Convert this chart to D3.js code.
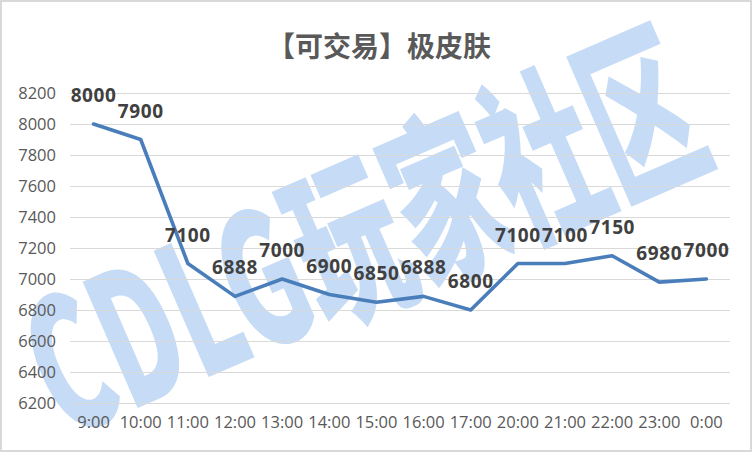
<!DOCTYPE html>
<html><head><meta charset="utf-8">
<script src="https://cdn.jsdelivr.net/npm/d3@7/dist/d3.min.js"></script>
<style>html,body{margin:0;padding:0;background:#fff;}svg{display:block;}</style>
</head><body>
<svg id="c" width="752" height="452"></svg>
<script>
const title = "【可交易】极皮肤";
const categories = ["9:00","10:00","11:00","12:00","13:00","14:00","15:00","16:00","17:00","20:00","21:00","22:00","23:00","0:00"];
const values = [8000,7900,7100,6888,7000,6900,6850,6888,6800,7100,7100,7150,6980,7000];
const yTicks = [6200,6400,6600,6800,7000,7200,7400,7600,7800,8000,8200];
const watermark = "CDLG玩家社区";

const svg = d3.select("#c");
const W = 752, H = 452;
const m = {left:70, right:22, top:93, bottom:49};

svg.append("rect").attr("x",1).attr("y",1).attr("width",W-2).attr("height",H-2)
  .attr("fill","#fff").attr("stroke","#d9d9d9").attr("stroke-width",2);

// watermark
svg.append("g").attr("transform","translate(64,440) rotate(-23.5) scale(1,1.85)")
  .append("text").text(watermark)
  .attr("x",0).attr("y",0)
  .attr("font-family","'Noto Sans CJK SC', sans-serif").attr("font-weight",900)
  .attr("font-size",100).attr("fill","#c6dbf5")
  .attr("textLength",712).attr("lengthAdjust","spacingAndGlyphs");

const x = d3.scaleBand().domain(categories).range([m.left, W-m.right]);
const y = d3.scaleLinear().domain([6200,8200]).range([H-m.bottom, m.top]);

// gridlines
const grid = d3.axisLeft(y).tickValues(yTicks).tickSize(-(W-m.right-m.left)).tickFormat("");
const gg = svg.append("g").attr("transform",`translate(${m.left},0)`).call(grid);
gg.select(".domain").remove();
gg.selectAll("line").attr("stroke","#d9d9d9").attr("stroke-width",1.2);

// y axis labels
const ya = svg.append("g").attr("transform",`translate(${m.left},0)`)
  .call(d3.axisLeft(y).tickValues(yTicks).tickSize(0).tickPadding(14).tickFormat(d3.format("d")));
ya.select(".domain").remove();
ya.selectAll("text").attr("font-family","'Open Sans', sans-serif").attr("font-size",16.5).attr("fill","#595959");

// x axis labels
const xa = svg.append("g").attr("transform",`translate(0,${H-m.bottom})`)
  .call(d3.axisBottom(x).tickSize(0).tickPadding(13));
xa.select(".domain").remove();
xa.selectAll("text").attr("font-family","'Open Sans', sans-serif").attr("font-size",16.5).attr("fill","#595959");

// line
const cx = d => x(d) + x.bandwidth()/2;
svg.append("path").datum(values)
  .attr("d", d3.line().x((d,i)=>cx(categories[i])).y(d=>y(d)))
  .attr("fill","none").attr("stroke","#4a7ebb").attr("stroke-width",3.6)
  .attr("stroke-linejoin","round").attr("stroke-linecap","round");

// data labels
svg.append("g").selectAll("text").data(values).join("text")
  .attr("x",(d,i)=>cx(categories[i])).attr("y",d=>y(d)-22)
  .attr("text-anchor","middle")
  .attr("font-family","'Open Sans', sans-serif").attr("font-weight",700)
  .attr("font-size",19).attr("letter-spacing",0.6).attr("fill","#404040")
  .text(d=>d);

// title
svg.append("text").attr("x",379).attr("y",57).attr("text-anchor","middle")
  .attr("font-family","'Noto Sans CJK SC', sans-serif").attr("font-weight",700)
  .attr("font-size",28).attr("fill","#595959").text(title);
</script>
</body></html>
